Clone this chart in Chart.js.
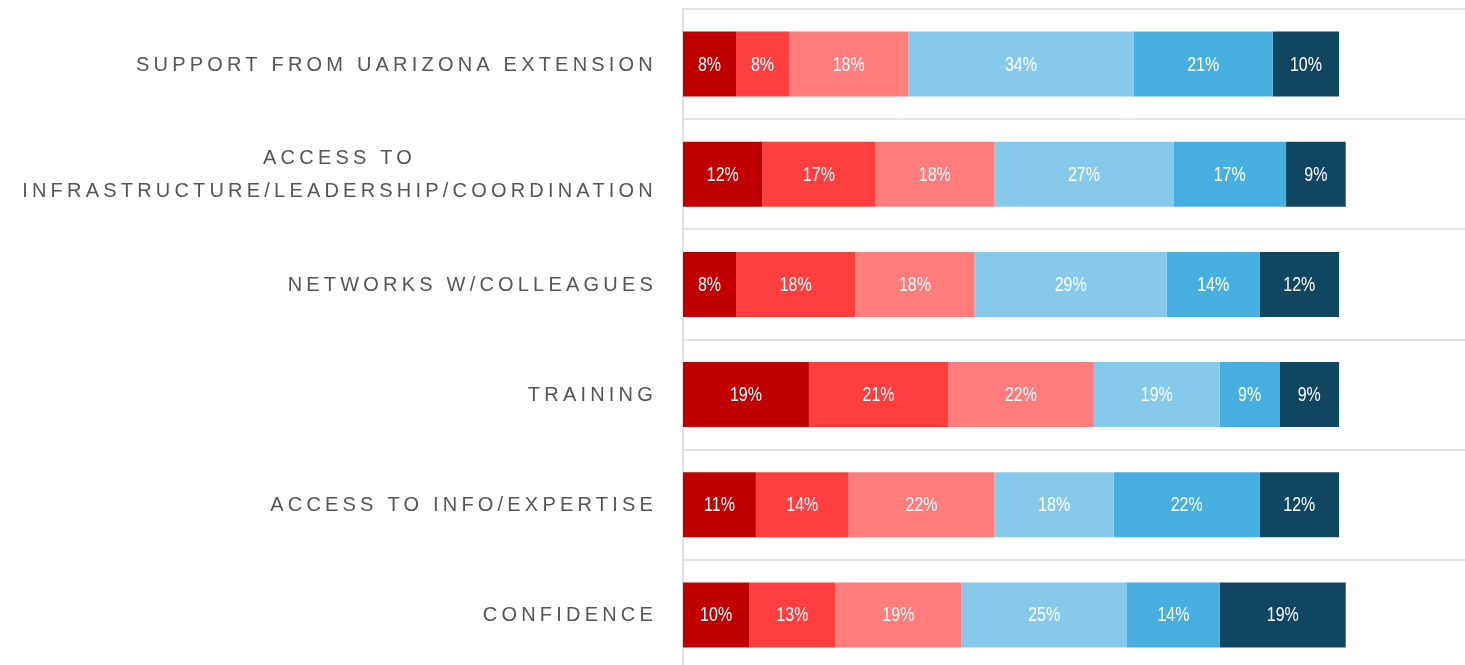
<!DOCTYPE html>
<html>
<head>
<meta charset="utf-8">
<script src="https://cdn.jsdelivr.net/npm/chart.js@4.4.1/dist/chart.umd.min.js"></script>
<style>
  html, body { margin: 0; padding: 0; background: #fff; overflow: hidden; }
  #wrap { position: relative; width: 1465px; height: 670px; }
</style>
</head>
<body>
<div id="wrap"><canvas id="chart"></canvas></div>
<script>
// categories (top to bottom)
const categories = [
  ['SUPPORT FROM UARIZONA EXTENSION'],
  ['ACCESS TO', 'INFRASTRUCTURE/LEADERSHIP/COORDINATION'],
  ['NETWORKS W/COLLEAGUES'],
  ['TRAINING'],
  ['ACCESS TO INFO/EXPERTISE'],
  ['CONFIDENCE']
];

// response levels, left to right (percent)
const level1 = [8, 12, 8, 19, 11, 10];
const level2 = [8, 17, 18, 21, 14, 13];
const level3 = [18, 18, 18, 22, 22, 19];
const level4 = [34, 27, 29, 19, 18, 25];
const level5 = [21, 17, 14, 9, 22, 14];
const level6 = [10, 9, 12, 9, 12, 19];

const colors = ['#c00000', '#ff3f3f', '#ff7c7c', '#87c9ea', '#47afe0', '#114660'];

const series = [level1, level2, level3, level4, level5, level6];

// draws the multi-line category labels: block right aligned, lines centred in block
const categoryLabels = {
  id: 'categoryLabels',
  afterDraw(chart) {
    const ctx = chart.ctx;
    const y = chart.scales.y;
    const spacing = 4.2;
    const right = 657;
    const lineH = 33;
    ctx.save();
    ctx.font = '20px "Liberation Sans", Arial, sans-serif';
    ctx.fillStyle = '#555555';
    ctx.textBaseline = 'middle';
    ctx.textAlign = 'center';
    if ('letterSpacing' in ctx) ctx.letterSpacing = spacing + 'px';
    categories.forEach((lines, i) => {
      const cy = y.getPixelForTick(i) + 1;
      const w = Math.max(...lines.map(l => ctx.measureText(l).width));
      const cx = right - w / 2;
      const top = cy - (lines.length - 1) * lineH / 2;
      lines.forEach((l, j) => ctx.fillText(l, cx, top + j * lineH));
    });
    ctx.restore();
  }
};

// percentage labels inside each bar segment (narrowed to look condensed)
const valueLabels = {
  id: 'valueLabels',
  afterDatasetsDraw(chart) {
    const ctx = chart.ctx;
    ctx.save();
    ctx.font = '20px "Liberation Sans", Arial, sans-serif';
    ctx.fillStyle = '#ffffff';
    ctx.textAlign = 'center';
    ctx.textBaseline = 'middle';
    chart.data.datasets.forEach((ds, di) => {
      chart.getDatasetMeta(di).data.forEach((bar, i) => {
        const p = bar.getProps(['x', 'y', 'base'], true);
        ctx.save();
        ctx.translate((p.x + p.base) / 2, p.y + 1);
        ctx.scale(0.8, 1);
        ctx.fillText(ds.data[i] + '%', 0, 0);
        ctx.restore();
      });
    });
    ctx.restore();
  }
};

new Chart(document.getElementById('chart'), {
  type: 'bar',
  data: {
    labels: categories,
    datasets: series.map((s, i) => ({
      label: 'Level ' + (i + 1),
      data: s,
      backgroundColor: colors[i],
      borderWidth: 0,
      categoryPercentage: 1,
      barPercentage: 0.59
    }))
  },
  options: {
    indexAxis: 'y',
    responsive: true,
    maintainAspectRatio: false,
    animation: false,
    layout: { padding: { top: 9, right: 0, bottom: 0, left: 0 } },
    plugins: {
      legend: { display: false },
      tooltip: { enabled: false }
    },
    scales: {
      x: {
        stacked: true,
        min: 0,
        max: 118,
        display: false
      },
      y: {
        stacked: true,
        afterFit(scale) { scale.width = 683; },
        ticks: { display: false },
        grid: {
          offset: true,
          color: '#e3e3e3',
          lineWidth: 2,
          drawTicks: false
        },
        border: { display: true, color: '#e0e0e0', width: 2 }
      }
    }
  },
  plugins: [valueLabels, categoryLabels]
});
</script>
</body>
</html>
